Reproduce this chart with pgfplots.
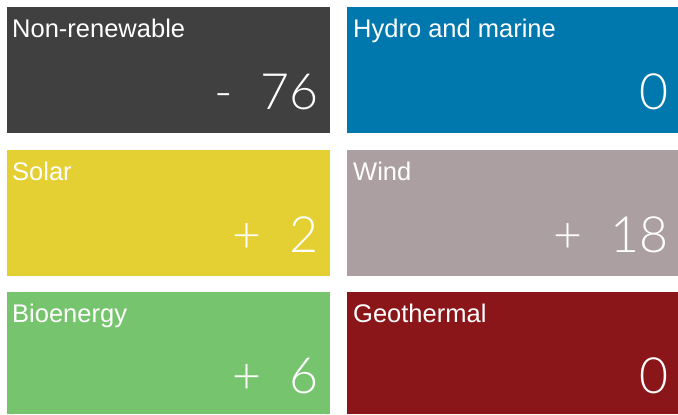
\documentclass[border=0pt]{standalone}
\usepackage{pgfplots}
\pgfplotsset{compat=1.18}
\usepackage{fontspec}
\setmainfont{Liberation Sans}
\newfontfamily\numfont{Lato Light}
\definecolor{cNon}{HTML}{404040}
\definecolor{cHyd}{HTML}{0078AE}
\definecolor{cSol}{HTML}{E5D033}
\definecolor{cWin}{HTML}{AC9FA1}
\definecolor{cBio}{HTML}{76C46E}
\definecolor{cGeo}{HTML}{8B1619}
\tikzset{
  tlab/.style={anchor=base west, text=white, font=\fontsize{25.5}{29}\selectfont, inner sep=0pt},
  tval/.style={anchor=base east, text=white, font=\numfont\fontsize{50}{56}\selectfont, inner sep=0pt},
}
\begin{document}
\begin{tikzpicture}
\begin{axis}[
  width=678pt, height=415pt, scale only axis,
  xmin=0, xmax=678, ymin=0, ymax=415, y dir=reverse,
  hide axis, clip=false,
]
\addplot[draw=none, mark=none, forget plot] coordinates {(0,0) (678,415)};
\addplot[fill=cNon, draw=none] coordinates {(7,7) (330,7) (330,133) (7,133)} --cycle;
\addplot[fill=cHyd, draw=none] coordinates {(347,7) (678,7) (678,133) (347,133)} --cycle;
\addplot[fill=cSol, draw=none] coordinates {(7,150) (330,150) (330,276) (7,276)} --cycle;
\addplot[fill=cWin, draw=none] coordinates {(347,150) (678,150) (678,276) (347,276)} --cycle;
\addplot[fill=cBio, draw=none] coordinates {(7,292) (330,292) (330,414) (7,414)} --cycle;
\addplot[fill=cGeo, draw=none] coordinates {(347,292) (678,292) (678,414) (347,414)} --cycle;

\node[tlab] at (axis cs:12,37) {Non-renewable};
\node[tlab] at (axis cs:353,37) {Hydro and marine};
\node[tlab] at (axis cs:12,180) {Solar};
\node[tlab] at (axis cs:353,180) {Wind};
\node[tlab] at (axis cs:12,322) {Bioenergy};
\node[tlab] at (axis cs:353,322) {Geothermal};

\node[tval] at (axis cs:319,109) {-\hspace{28pt}76};
\node[tval] at (axis cs:669,109) {0};
\node[tval] at (axis cs:319,252) {+\hspace{28pt}2};
\node[tval] at (axis cs:669,252) {+\hspace{28pt}18};
\node[tval] at (axis cs:319,393) {+\hspace{28pt}6};
\node[tval] at (axis cs:669,393) {0};
\end{axis}
\end{tikzpicture}
\end{document}
